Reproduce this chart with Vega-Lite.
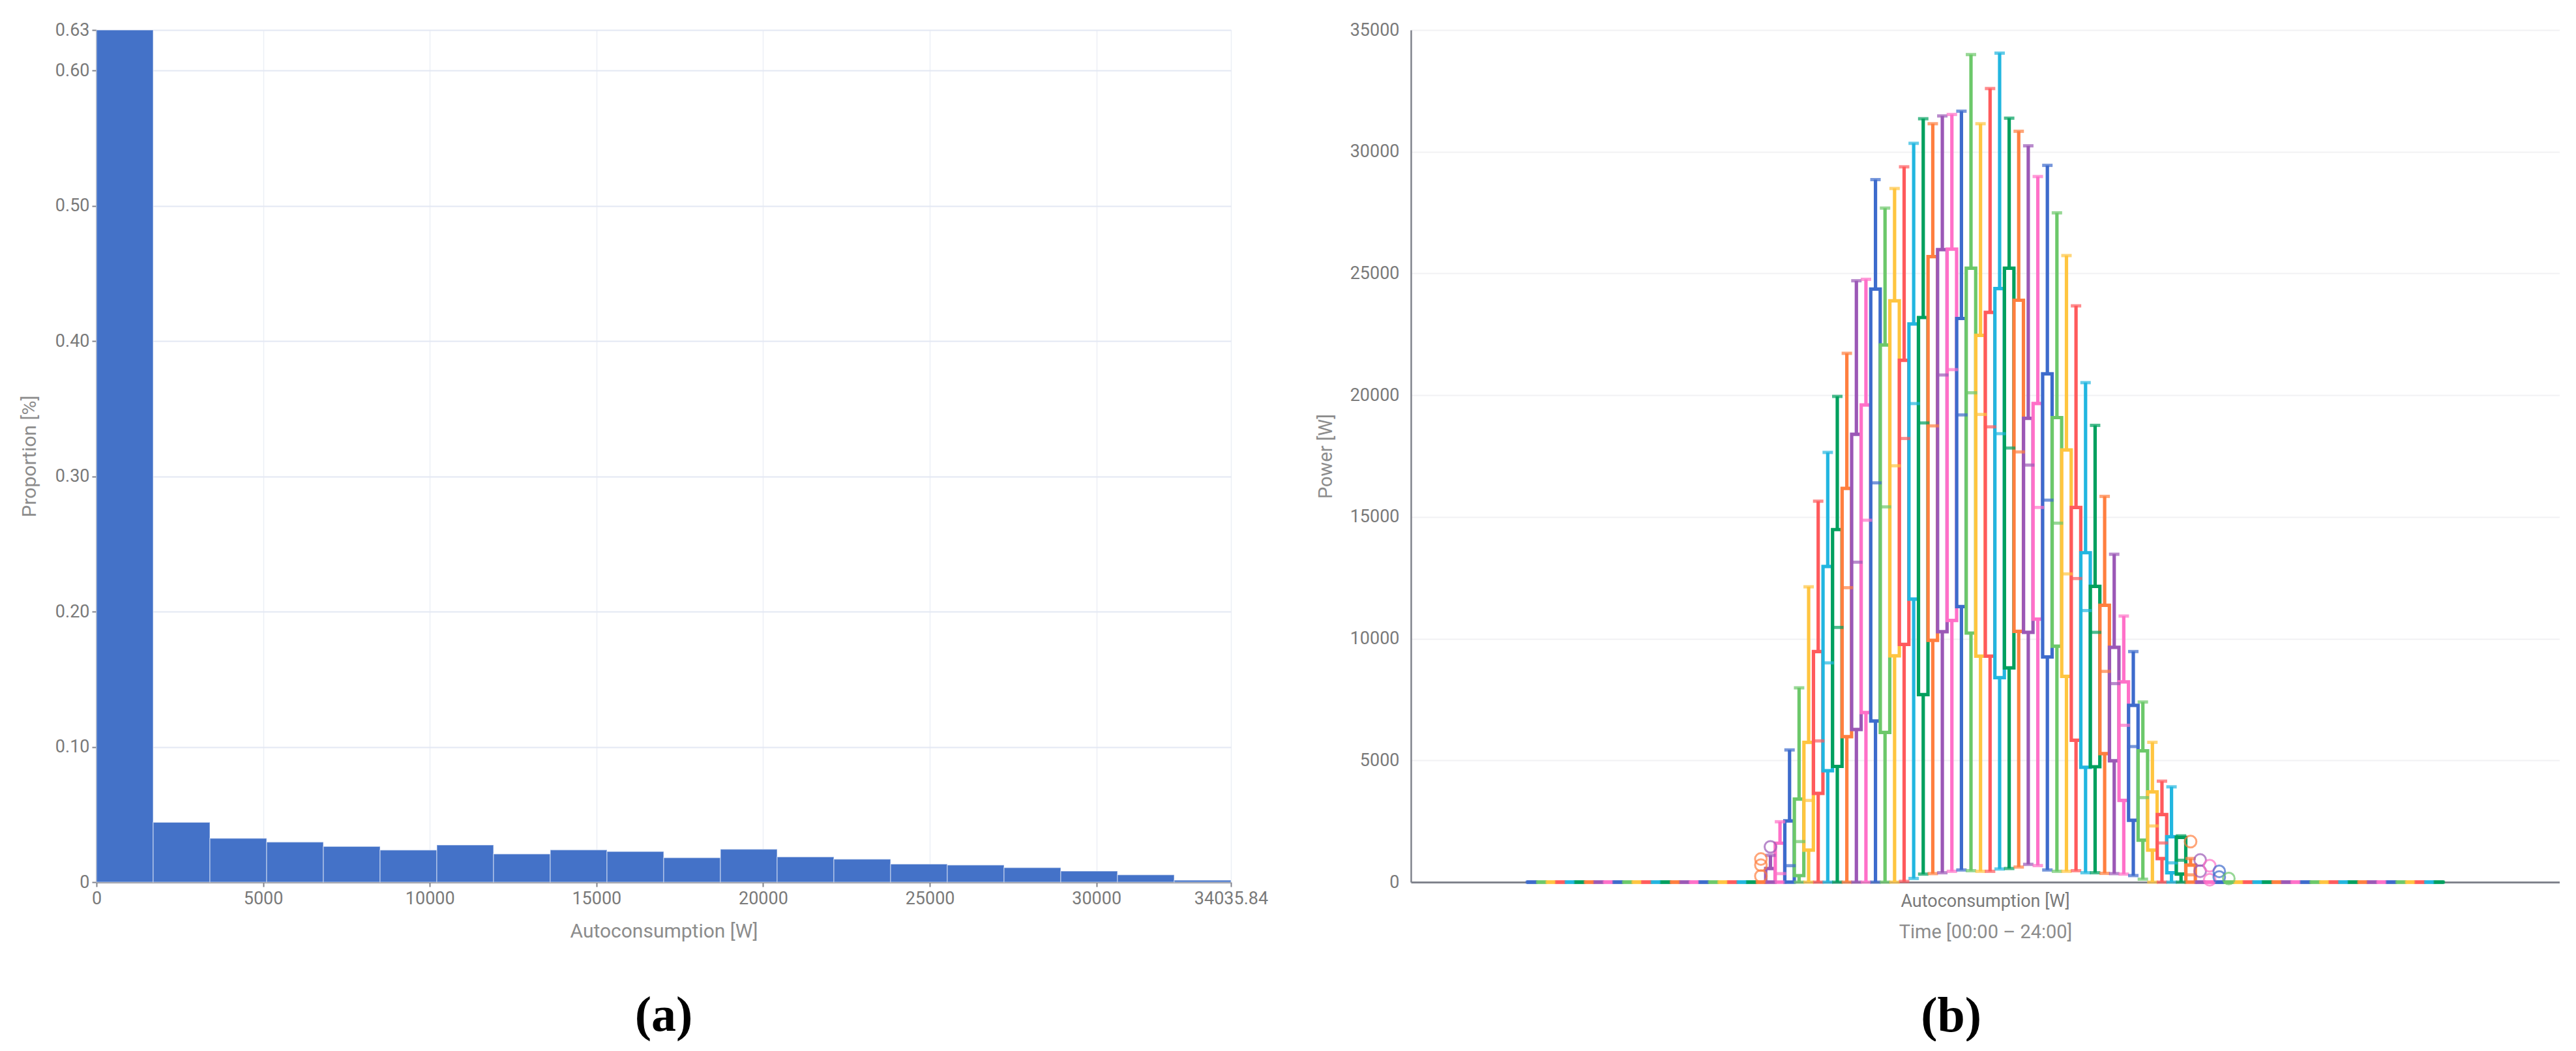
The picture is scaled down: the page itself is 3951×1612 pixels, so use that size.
{
  "$schema": "https://vega.github.io/schema/vega-lite/v6.json",
  "background": "white",
  "padding": {"left": 30, "top": 32, "right": 0, "bottom": 0},
  "bounds": "flush",
  "spacing": 276,
  "config": {
    "view": {"stroke": null},
    "font": "Roboto",
    "axis": {
      "labelFont": "Roboto",
      "titleFont": "Roboto",
      "labelColor": "#7a7a7a",
      "titleColor": "#8c8c8c",
      "titleFontWeight": "normal",
      "labelFontSize": 27,
      "titleFontSize": 30,
      "domainColor": "#80838c",
      "domainWidth": 2.5,
      "tickColor": "#80838c",
      "tickWidth": 2
    }
  },
  "hconcat": [
    {
      "width": 1740,
      "height": 1307,
      "title": {"text": "(a)", "orient": "bottom", "anchor": "middle", "frame": "group", "font": "Liberation Serif", "fontSize": 76, "fontWeight": "bold", "color": "#000000", "offset": 78},
      "data": {"values": [
        {"b0": 0, "b1": 1701.79, "p": 0.63},
        {"b0": 1701.79, "b1": 3403.58, "p": 0.0442},
        {"b0": 3403.58, "b1": 5105.38, "p": 0.0324},
        {"b0": 5105.38, "b1": 6807.17, "p": 0.0297},
        {"b0": 6807.17, "b1": 8508.96, "p": 0.0264},
        {"b0": 8508.96, "b1": 10210.75, "p": 0.0237},
        {"b0": 10210.75, "b1": 11912.54, "p": 0.0275},
        {"b0": 11912.54, "b1": 13614.34, "p": 0.0209},
        {"b0": 13614.34, "b1": 15316.13, "p": 0.0239},
        {"b0": 15316.13, "b1": 17017.92, "p": 0.0227},
        {"b0": 17017.92, "b1": 18719.71, "p": 0.0181},
        {"b0": 18719.71, "b1": 20421.5, "p": 0.0243},
        {"b0": 20421.5, "b1": 22123.3, "p": 0.0187},
        {"b0": 22123.3, "b1": 23825.09, "p": 0.017},
        {"b0": 23825.09, "b1": 25526.88, "p": 0.0134},
        {"b0": 25526.88, "b1": 27228.67, "p": 0.0126},
        {"b0": 27228.67, "b1": 28930.46, "p": 0.0107},
        {"b0": 28930.46, "b1": 30632.26, "p": 0.0082},
        {"b0": 30632.26, "b1": 32334.05, "p": 0.0054},
        {"b0": 32334.05, "b1": 34035.84, "p": 0.0014}
      ]},
      "mark": {"type": "rect", "color": "#4472c8", "stroke": "#ffffff", "strokeWidth": 1.5, "strokeOpacity": 0.45},
      "encoding": {
        "x": {"field": "b0", "type": "quantitative", "title": "Autoconsumption [W]",
          "scale": {"domain": [0, 34035.84], "nice": false, "zero": false},
          "axis": {"values": [0, 5000, 10000, 15000, 20000, 25000, 30000, 34035.84], "labelExpr": "'' + datum.value", "grid": true, "gridColor": "#eceff5", "gridWidth": 1.5, "tickSize": 7, "labelPadding": 5, "titlePadding": 22, "labelFlush": false}},
        "x2": {"field": "b1"},
        "y": {"field": "p", "type": "quantitative", "title": "Proportion [%]",
          "scale": {"domain": [0, 0.63], "nice": false},
          "axis": {"values": [0, 0.1, 0.2, 0.3, 0.4, 0.5, 0.6, 0.63], "labelExpr": "datum.value == 0 ? '0' : format(datum.value, '.2f')", "grid": true, "gridColor": "#e3e8f3", "gridWidth": 2, "tickSize": 7, "labelPadding": 4, "titlePadding": 24}},
        "y2": {"datum": 0}
      }
    },
    {
      "width": 1762,
      "height": 1307,
      "title": {"text": "(b)", "orient": "bottom", "anchor": "middle", "frame": "bounds", "dx": 20, "font": "Liberation Serif", "fontSize": 76, "fontWeight": "bold", "color": "#000000", "offset": 78},
      "data": {"values": [
        {"t": "00:00", "mn": 0, "q1": 0, "md": 0, "q3": 0, "mx": 0},
        {"t": "00:15", "mn": 0, "q1": 0, "md": 0, "q3": 0, "mx": 0},
        {"t": "00:30", "mn": 0, "q1": 0, "md": 0, "q3": 0, "mx": 0},
        {"t": "00:45", "mn": 0, "q1": 0, "md": 0, "q3": 0, "mx": 0},
        {"t": "01:00", "mn": 0, "q1": 0, "md": 0, "q3": 0, "mx": 0},
        {"t": "01:15", "mn": 0, "q1": 0, "md": 0, "q3": 0, "mx": 0},
        {"t": "01:30", "mn": 0, "q1": 0, "md": 0, "q3": 0, "mx": 0},
        {"t": "01:45", "mn": 0, "q1": 0, "md": 0, "q3": 0, "mx": 0},
        {"t": "02:00", "mn": 0, "q1": 0, "md": 0, "q3": 0, "mx": 0},
        {"t": "02:15", "mn": 0, "q1": 0, "md": 0, "q3": 0, "mx": 0},
        {"t": "02:30", "mn": 0, "q1": 0, "md": 0, "q3": 0, "mx": 0},
        {"t": "02:45", "mn": 0, "q1": 0, "md": 0, "q3": 0, "mx": 0},
        {"t": "03:00", "mn": 0, "q1": 0, "md": 0, "q3": 0, "mx": 0},
        {"t": "03:15", "mn": 0, "q1": 0, "md": 0, "q3": 0, "mx": 0},
        {"t": "03:30", "mn": 0, "q1": 0, "md": 0, "q3": 0, "mx": 0},
        {"t": "03:45", "mn": 0, "q1": 0, "md": 0, "q3": 0, "mx": 0},
        {"t": "04:00", "mn": 0, "q1": 0, "md": 0, "q3": 0, "mx": 0},
        {"t": "04:15", "mn": 0, "q1": 0, "md": 0, "q3": 0, "mx": 0},
        {"t": "04:30", "mn": 0, "q1": 0, "md": 0, "q3": 0, "mx": 0},
        {"t": "04:45", "mn": 0, "q1": 0, "md": 0, "q3": 0, "mx": 0},
        {"t": "05:00", "mn": 0, "q1": 0, "md": 0, "q3": 0, "mx": 0},
        {"t": "05:15", "mn": 0, "q1": 0, "md": 0, "q3": 0, "mx": 0},
        {"t": "05:30", "mn": 0, "q1": 0, "md": 0, "q3": 0, "mx": 0},
        {"t": "05:45", "mn": 0, "q1": 0, "md": 0, "q3": 0, "mx": 0},
        {"t": "06:00", "mn": 0, "q1": 0, "md": 0, "q3": 0, "mx": 0},
        {"t": "06:15", "mn": 0, "q1": 0, "md": 0, "q3": 560, "mx": 1100},
        {"t": "06:30", "mn": 0, "q1": 0, "md": 350, "q3": 1600, "mx": 2480},
        {"t": "06:45", "mn": 0, "q1": 0, "md": 676, "q3": 2516, "mx": 5430},
        {"t": "07:00", "mn": 0, "q1": 268, "md": 1666, "q3": 3413, "mx": 7980},
        {"t": "07:15", "mn": 0, "q1": 1316, "md": 3355, "q3": 5743, "mx": 12130},
        {"t": "07:30", "mn": 0, "q1": 3646, "md": 5800, "q3": 9470, "mx": 15646},
        {"t": "07:45", "mn": 0, "q1": 4578, "md": 9005, "q3": 12966, "mx": 17650},
        {"t": "08:00", "mn": 0, "q1": 4753, "md": 10462, "q3": 14481, "mx": 19950},
        {"t": "08:15", "mn": 0, "q1": 5976, "md": 12093, "q3": 16170, "mx": 21720},
        {"t": "08:30", "mn": 0, "q1": 6268, "md": 13141, "q3": 18394, "mx": 24700},
        {"t": "08:45", "mn": 0, "q1": 6967, "md": 14865, "q3": 19600, "mx": 24760},
        {"t": "09:00", "mn": 0, "q1": 6617, "md": 16400, "q3": 24360, "mx": 28855},
        {"t": "09:15", "mn": 0, "q1": 6151, "md": 15413, "q3": 22065, "mx": 27685},
        {"t": "09:30", "mn": 0, "q1": 9297, "md": 17100, "q3": 23877, "mx": 28490},
        {"t": "09:45", "mn": 30, "q1": 9763, "md": 18222, "q3": 21434, "mx": 29380},
        {"t": "10:00", "mn": 150, "q1": 11627, "md": 19656, "q3": 22925, "mx": 30345},
        {"t": "10:15", "mn": 330, "q1": 7700, "md": 18860, "q3": 23190, "mx": 31355},
        {"t": "10:30", "mn": 350, "q1": 9930, "md": 18740, "q3": 25690, "mx": 31150},
        {"t": "10:45", "mn": 385, "q1": 10285, "md": 20830, "q3": 25980, "mx": 31470},
        {"t": "11:00", "mn": 445, "q1": 10750, "md": 21050, "q3": 26000, "mx": 31530},
        {"t": "11:15", "mn": 500, "q1": 11320, "md": 19190, "q3": 23150, "mx": 31665},
        {"t": "11:30", "mn": 470, "q1": 10230, "md": 20100, "q3": 25215, "mx": 33990},
        {"t": "11:45", "mn": 445, "q1": 9280, "md": 19210, "q3": 22460, "mx": 31150},
        {"t": "12:00", "mn": 445, "q1": 9280, "md": 18700, "q3": 23400, "mx": 32595},
        {"t": "12:15", "mn": 540, "q1": 8400, "md": 18420, "q3": 24380, "mx": 34050},
        {"t": "12:30", "mn": 560, "q1": 8800, "md": 17830, "q3": 25215, "mx": 31378},
        {"t": "12:45", "mn": 620, "q1": 10300, "md": 17670, "q3": 23900, "mx": 30840},
        {"t": "13:00", "mn": 730, "q1": 10260, "md": 17130, "q3": 19050, "mx": 30243},
        {"t": "13:15", "mn": 680, "q1": 10800, "md": 15390, "q3": 19660, "mx": 28981},
        {"t": "13:30", "mn": 500, "q1": 9250, "md": 15690, "q3": 20880, "mx": 29440},
        {"t": "13:45", "mn": 445, "q1": 9690, "md": 14745, "q3": 19080, "mx": 27490},
        {"t": "14:00", "mn": 445, "q1": 8450, "md": 12660, "q3": 17750, "mx": 25735},
        {"t": "14:15", "mn": 470, "q1": 5830, "md": 12470, "q3": 15390, "mx": 23670},
        {"t": "14:30", "mn": 385, "q1": 4715, "md": 11155, "q3": 13530, "mx": 20516},
        {"t": "14:45", "mn": 385, "q1": 4740, "md": 10260, "q3": 12150, "mx": 18761},
        {"t": "15:00", "mn": 360, "q1": 5277, "md": 8656, "q3": 11370, "mx": 15844},
        {"t": "15:15", "mn": 350, "q1": 4986, "md": 8155, "q3": 9646, "mx": 13467},
        {"t": "15:30", "mn": 330, "q1": 3355, "md": 6442, "q3": 8225, "mx": 10928},
        {"t": "15:45", "mn": 270, "q1": 2540, "md": 5569, "q3": 7258, "mx": 9471},
        {"t": "16:00", "mn": 120, "q1": 1724, "md": 3472, "q3": 5394, "mx": 7398},
        {"t": "16:15", "mn": 0, "q1": 1316, "md": 2307, "q3": 3705, "mx": 5743},
        {"t": "16:30", "mn": 0, "q1": 967, "md": 1608, "q3": 2773, "mx": 4147},
        {"t": "16:45", "mn": 0, "q1": 384, "md": 792, "q3": 1864, "mx": 3914},
        {"t": "17:00", "mn": 0, "q1": 330, "md": 900, "q3": 1840, "mx": 1900},
        {"t": "17:15", "mn": 0, "q1": 0, "md": 300, "q3": 700, "mx": 970},
        {"t": "17:30", "mn": 0, "q1": 0, "md": 0, "q3": 0, "mx": 0},
        {"t": "17:45", "mn": 0, "q1": 0, "md": 0, "q3": 0, "mx": 0},
        {"t": "18:00", "mn": 0, "q1": 0, "md": 0, "q3": 0, "mx": 0},
        {"t": "18:15", "mn": 0, "q1": 0, "md": 0, "q3": 0, "mx": 0},
        {"t": "18:30", "mn": 0, "q1": 0, "md": 0, "q3": 0, "mx": 0},
        {"t": "18:45", "mn": 0, "q1": 0, "md": 0, "q3": 0, "mx": 0},
        {"t": "19:00", "mn": 0, "q1": 0, "md": 0, "q3": 0, "mx": 0},
        {"t": "19:15", "mn": 0, "q1": 0, "md": 0, "q3": 0, "mx": 0},
        {"t": "19:30", "mn": 0, "q1": 0, "md": 0, "q3": 0, "mx": 0},
        {"t": "19:45", "mn": 0, "q1": 0, "md": 0, "q3": 0, "mx": 0},
        {"t": "20:00", "mn": 0, "q1": 0, "md": 0, "q3": 0, "mx": 0},
        {"t": "20:15", "mn": 0, "q1": 0, "md": 0, "q3": 0, "mx": 0},
        {"t": "20:30", "mn": 0, "q1": 0, "md": 0, "q3": 0, "mx": 0},
        {"t": "20:45", "mn": 0, "q1": 0, "md": 0, "q3": 0, "mx": 0},
        {"t": "21:00", "mn": 0, "q1": 0, "md": 0, "q3": 0, "mx": 0},
        {"t": "21:15", "mn": 0, "q1": 0, "md": 0, "q3": 0, "mx": 0},
        {"t": "21:30", "mn": 0, "q1": 0, "md": 0, "q3": 0, "mx": 0},
        {"t": "21:45", "mn": 0, "q1": 0, "md": 0, "q3": 0, "mx": 0},
        {"t": "22:00", "mn": 0, "q1": 0, "md": 0, "q3": 0, "mx": 0},
        {"t": "22:15", "mn": 0, "q1": 0, "md": 0, "q3": 0, "mx": 0},
        {"t": "22:30", "mn": 0, "q1": 0, "md": 0, "q3": 0, "mx": 0},
        {"t": "22:45", "mn": 0, "q1": 0, "md": 0, "q3": 0, "mx": 0},
        {"t": "23:00", "mn": 0, "q1": 0, "md": 0, "q3": 0, "mx": 0},
        {"t": "23:15", "mn": 0, "q1": 0, "md": 0, "q3": 0, "mx": 0},
        {"t": "23:30", "mn": 0, "q1": 0, "md": 0, "q3": 0, "mx": 0},
        {"t": "23:45", "mn": 0, "q1": 0, "md": 0, "q3": 0, "mx": 0}
      ]},
      "encoding": {
        "x": {"datum": "Autoconsumption [W]", "type": "nominal",
          "scale": {"paddingOuter": 0.1266, "paddingInner": 0},
          "axis": {"title": "Time [00:00 – 24:00]", "ticks": false, "grid": false, "labelAngle": 0, "labelLimit": 0, "labelPadding": 16, "titlePadding": 20, "titleFontSize": 29, "labelFontSize": 27, "domainWidth": 3}},
        "xOffset": {"field": "t", "type": "nominal", "scale": {"paddingInner": 0, "paddingOuter": 0}},
        "y": {"field": "mn", "type": "quantitative", "title": "Power [W]",
          "scale": {"domain": [0, 35000], "nice": false},
          "axis": {"values": [0, 5000, 10000, 15000, 20000, 25000, 30000, 35000], "format": "d", "ticks": false, "grid": true, "gridColor": "#f1f1f3", "gridWidth": 2, "labelPadding": 18, "titlePadding": 22, "titleFontSize": 29}}
      },
      "layer": [
        {
          "mark": {"type": "rule", "strokeWidth": 5.2},
          "encoding": {
            "y2": {"field": "mx"},
            "color": {"field": "t", "type": "nominal", "legend": null, "scale": {"range": ["#3d6bcc", "#6cc86a", "#ffc540", "#ff5a5c", "#22b6e0", "#00a05e", "#ff7f3f", "#9b58b6", "#ff70c8"]}}
          }
        },
        {
          "mark": {"type": "bar", "width": 14.5, "fill": "#ffffff", "strokeWidth": 5.2},
          "encoding": {
            "y": {"field": "q1", "type": "quantitative"},
            "y2": {"field": "q3"},
            "stroke": {"field": "t", "type": "nominal", "legend": null, "scale": {"range": ["#3d6bcc", "#6cc86a", "#ffc540", "#ff5a5c", "#22b6e0", "#00a05e", "#ff7f3f", "#9b58b6", "#ff70c8"]}}
          }
        },
        {
          "mark": {"type": "tick", "size": 19, "thickness": 4.8},
          "encoding": {
            "y": {"field": "md", "type": "quantitative"},
            "color": {"field": "t", "type": "nominal", "legend": null}
          }
        },
        {
          "mark": {"type": "tick", "size": 16, "thickness": 5},
          "encoding": {
            "y": {"field": "mx", "type": "quantitative"},
            "color": {"field": "t", "type": "nominal", "legend": null}
          }
        },
        {
          "mark": {"type": "tick", "size": 16, "thickness": 5},
          "encoding": {
            "y": {"field": "mn", "type": "quantitative"},
            "color": {"field": "t", "type": "nominal", "legend": null}
          }
        },
        {
          "data": {"values": [
            {"t": "06:00", "v": 950},
            {"t": "06:00", "v": 700},
            {"t": "06:00", "v": 250},
            {"t": "06:15", "v": 1450},
            {"t": "17:15", "v": 1666},
            {"t": "17:30", "v": 909},
            {"t": "17:30", "v": 450},
            {"t": "17:45", "v": 676},
            {"t": "17:45", "v": 100},
            {"t": "18:00", "v": 443},
            {"t": "18:00", "v": 210},
            {"t": "18:15", "v": 150}
          ]},
          "mark": {"type": "point", "shape": "circle", "filled": false, "size": 320, "strokeWidth": 3},
          "encoding": {
            "y": {"field": "v", "type": "quantitative"},
            "color": {"field": "t", "type": "nominal", "legend": null}
          }
        }
      ]
    }
  ]
}
